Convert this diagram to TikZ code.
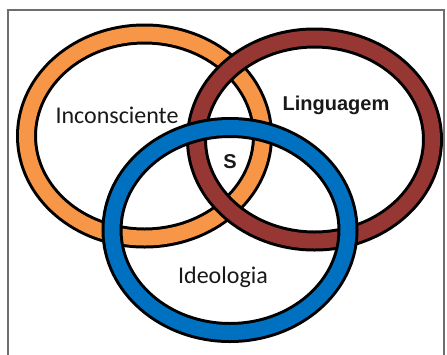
\documentclass[tikz,border=0pt]{standalone}
\usepackage{fontspec}
\newfontfamily\calib{Carlito}
\newfontfamily\arialb{Liberation Sans}
\definecolor{ringorange}{RGB}{247,150,70}
\definecolor{ringbrown}{RGB}{150,55,52}
\definecolor{ringblue}{RGB}{0,112,192}
\definecolor{framegray}{RGB}{110,110,110}
\begin{document}
\begin{tikzpicture}[x=1pt,y=-1pt,
  ringout/.style={draw=black,line width=21pt},
  ringin/.style={line width=15pt},
  lbl/.style={inner sep=0pt,text=black!90}]
\useasboundingbox (0,0) rectangle (447,354);
\fill[white] (0,0) rectangle (447,354);
\draw[framegray,line width=1.3pt] (8,360) -- (8,10) -- (444,10) -- (444,360);
% orange ring (Inconsciente)
\draw[ringout] (144.5,136) ellipse [x radius=118,y radius=102];
\draw[ringin,draw=ringorange] (144.5,136) ellipse [x radius=118,y radius=102];
% brown ring (Linguagem)
\draw[ringout] (314.5,139.5) ellipse [x radius=118,y radius=101.5];
\draw[ringin,draw=ringbrown] (314.5,139.5) ellipse [x radius=118,y radius=101.5];
% blue ring (Ideologia)
\draw[ringout] (230,230) ellipse [x radius=118,y radius=102.5];
\draw[ringin,draw=ringblue] (230,230) ellipse [x radius=118,y radius=102.5];
% labels
\node[lbl,font=\calib\fontsize{24}{28}\selectfont] (inc) at (117,115) {Inconsciente};
\node[lbl,font=\arialb\bfseries\fontsize{20}{24}\selectfont] (lin) at (336,105) {Linguagem};
\node[lbl,font=\calib\fontsize{24}{28}\selectfont] (ide) at (223,277) {Ideologia};
\node[lbl,font=\arialb\bfseries\fontsize{20}{24}\selectfont] (s) at (230,162) {S};
\end{tikzpicture}
\end{document}
